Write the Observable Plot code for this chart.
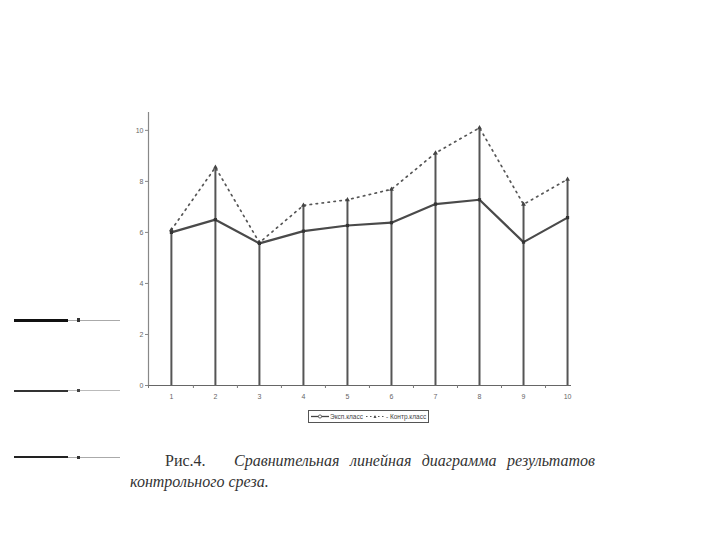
<!DOCTYPE html>
<html>
<head>
<meta charset="utf-8">
<script src="https://cdn.jsdelivr.net/npm/d3@7"></script>
<script src="https://cdn.jsdelivr.net/npm/@observablehq/plot@0.6"></script>
<style>
  html, body { margin: 0; padding: 0; background: #fff; }
  #wrap { position: relative; width: 720px; height: 540px; overflow: hidden; }
  #chart { position: absolute; left: 0; top: 0; }
  .legend { position: absolute; left: 308px; top: 410px; width: 119px; height: 11px;
            border: 1px solid #555; background: #fff; font: 6.5px "Liberation Sans", Arial, sans-serif; color: #444; }
  .caption { position: absolute; font-family: "Liberation Serif", "DejaVu Serif", serif;
             font-size: 16px; color: #333; white-space: nowrap; }
  .l1 { top: 452px; left: 165px; width: 430px; display: flex; justify-content: space-between; }
  .l1 span { margin-right: 18px; }
  .l1 i { font-style: italic; }
  .l2 { top: 473px; left: 130px; font-style: italic; }
  .art { position: absolute; height: 0; }
</style>
</head>
<body>
<div id="wrap">
  <div id="chart"></div>
  <div class="art" style="left:14px;top:319px;width:54px;border-top:3px solid #111;"></div>
  <div class="art" style="left:68px;top:320px;width:52px;border-top:1px solid #aaa;"></div>
  <div class="art" style="left:77px;top:318px;width:3px;height:4px;background:#333;"></div>
  <div class="art" style="left:14px;top:390px;width:54px;border-top:2px solid #333;"></div>
  <div class="art" style="left:68px;top:390px;width:52px;border-top:1px solid #bbb;"></div>
  <div class="art" style="left:77px;top:389px;width:3px;height:3px;background:#444;"></div>
  <div class="art" style="left:14px;top:456px;width:54px;border-top:2px solid #222;"></div>
  <div class="art" style="left:68px;top:457px;width:52px;border-top:1px solid #aaa;"></div>
  <div class="art" style="left:77px;top:456px;width:3px;height:3px;background:#333;"></div>
  <div class="legend" id="legend"></div>
  <div class="caption l1"><span>Рис.4.</span><i>Сравнительная</i><i>линейная</i><i>диаграмма</i><i>результатов</i></div>
  <div class="caption l2">контрольного среза.</div>
</div>
<script>
const categories = [1, 2, 3, 4, 5, 6, 7, 8, 9, 10];
const expValues  = [6.0, 6.5, 5.57, 6.05, 6.27, 6.38, 7.11, 7.28, 5.62, 6.58];
const ctrlValues = [6.1, 8.55, 5.6, 7.06, 7.28, 7.69, 9.11, 10.1, 7.1, 8.08];
const yTicks = [0, 2, 4, 6, 8, 10];
const seriesNames = ["Эксп.класс", "Контр.класс"];

const expData = categories.map((c, i) => ({x: c, y: expValues[i]}));
const ctrlData = categories.map((c, i) => ({x: c, y: ctrlValues[i]}));
const drops = categories.map((c, i) => ({x: c, top: Math.max(expValues[i], ctrlValues[i])}));
const between = categories.slice(0, -1).map(c => c + 0.5).concat([0.48]);

const chart = Plot.plot({
  width: 720,
  height: 540,
  marginLeft: 148,
  marginRight: 149,
  marginTop: 112,
  marginBottom: 155,
  style: {fontFamily: "'Liberation Sans', Arial, sans-serif", fontSize: "7px", color: "#777", background: "white"},
  x: {domain: [0.48, 10.09]},
  y: {domain: [0, 10.7]},
  marks: [
    Plot.ruleY([0], {stroke: "#666", strokeWidth: 1.2}),
    Plot.ruleX([0.48], {y1: 0, y2: 10.7, stroke: "#888", strokeWidth: 1.2}),
    Plot.axisY({ticks: yTicks, tickSize: 3, tickPadding: 2, stroke: "#888", fill: "#666", label: null}),
    Plot.axisX({ticks: between, tickSize: 3, tickFormat: () => "", stroke: "#777", label: null}),
    Plot.axisX({ticks: categories, tickSize: 0, tickPadding: 9, fill: "#666", label: null, tickFormat: d3.format("d")}),
    Plot.ruleX(drops, {x: "x", y1: 0, y2: "top", stroke: "#555", strokeWidth: 2}),
    Plot.line(ctrlData, {x: "x", y: "y", stroke: "#555", strokeWidth: 1.7, strokeDasharray: "1.5,4.5", strokeLinecap: "round"}),
    Plot.line(expData, {x: "x", y: "y", stroke: "#4a4a4a", strokeWidth: 2.2}),
    Plot.dot(ctrlData, {x: "x", y: "y", symbol: "triangle", r: 1.8, fill: "#444"}),
    Plot.dot(expData, {x: "x", y: "y", symbol: "square", r: 1.8, fill: "#333"})
  ]
});
document.getElementById("chart").appendChild(chart);

document.getElementById("legend").innerHTML =
  `<svg width="119" height="11" style="position:absolute;left:0;top:0">
     <line x1="2" y1="5.5" x2="20" y2="5.5" stroke="#444" stroke-width="1.3"/>
     <circle cx="11" cy="5.5" r="1.6" fill="white" stroke="#444" stroke-width="0.8"/>
     <text x="21" y="8" font-size="6.5" fill="#444" font-family="Liberation Sans, Arial">${seriesNames[0]}</text>
     <line x1="57" y1="5.5" x2="75" y2="5.5" stroke="#555" stroke-width="1" stroke-dasharray="1.5,2.5"/>
     <path d="M64.5,7 L66,4 L67.5,7 Z" fill="#555"/>
     <text x="77" y="8" font-size="6.5" fill="#444" font-family="Liberation Sans, Arial">- ${seriesNames[1]}</text>
   </svg>`;
</script>
</body>
</html>
